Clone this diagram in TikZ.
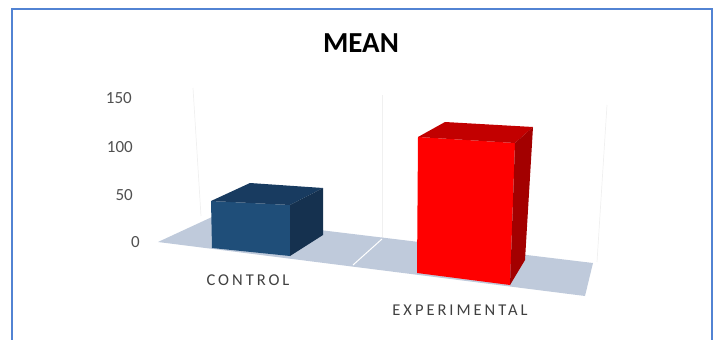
\documentclass[tikz,border=0pt]{standalone}
\usepackage{fontspec}
\setmainfont{Carlito}
\usetikzlibrary{calc}
\definecolor{frameblue}{HTML}{5283D3}
\definecolor{floorblue}{HTML}{BFCADB}
\definecolor{ctrlfront}{HTML}{1F4E79}
\definecolor{ctrltop}{HTML}{183B60}
\definecolor{ctrlside}{HTML}{15314F}
\definecolor{expfront}{HTML}{FF0000}
\definecolor{exptop}{HTML}{C20000}
\definecolor{expside}{HTML}{A30000}
\definecolor{tickgray}{HTML}{505050}
\definecolor{labelgray}{HTML}{404040}
\tikzset{
	frame/.style={draw=frameblue,line width=1.6pt},
	floor/.style={fill=floorblue,draw=none},
	gridline/.style={draw=black!6,line width=0.7pt},
	divider/.style={draw=white,line width=1pt},
	tick/.style={font=\fontsize{17}{17}\selectfont,text=tickgray,anchor=east,inner sep=0pt},
	category/.style={font=\fontsize{16.5}{16.5}\selectfont\addfontfeatures{LetterSpace=18},text=labelgray,inner sep=0pt},
	heading/.style={font=\fontsize{29}{29}\selectfont\bfseries,inner sep=0pt}
	}

\begin{document}
\begin{tikzpicture}[x=1pt,y=-1pt]
	\useasboundingbox (0,0) rectangle (718,340);
	\draw[frame] (12,9) rectangle (712,360);

	\node[heading] (title) at (361,43) {MEAN};

	% axis values
	\node[tick] (t150) at (132,98) {150};
	\node[tick] (t100) at (133,147) {100};
	\node[tick] (t50) at (133,195) {50};
	\node[tick] (t0) at (140,242) {0};

	% back grid lines
	\draw[gridline] (193,88) -- (201,216);
	\draw[gridline] (382,95) -- (382,238);
	\draw[gridline] (607,105) -- (597,262);

	% floor
	\coordinate (fl) at (158,242);
	\coordinate (bl) at (212,217);
	\coordinate (br) at (593,263);
	\coordinate (fr) at (585,296);
	\fill[floor] (fl) -- (bl) -- (br) -- (fr) -- cycle;
	\draw[divider] (353,265) -- (382,239);

	% control bar
	\fill[ctrlfront] (211,201) -- (290,205) -- (290,256) -- (212,248) -- cycle;
	\fill[ctrltop] (211,201) -- (250,183) -- (323,188) -- (290,205) -- cycle;
	\fill[ctrlside] (290,205) -- (323,188) -- (323,235) -- (290,256) -- cycle;

	% experimental bar
	\fill[expfront] (418,137) -- (515,143) -- (510,285) -- (417,273) -- cycle;
	\fill[exptop] (418,137) -- (445,122) -- (533,127) -- (515,143) -- cycle;
	\fill[expside] (515,143) -- (533,127) -- (525,260) -- (510,285) -- cycle;

	\node[category] (control) at (248,280) {CONTROL};
	\node[category] (experimental) at (460,310) {EXPERIMENTAL};
\end{tikzpicture}
\end{document}
